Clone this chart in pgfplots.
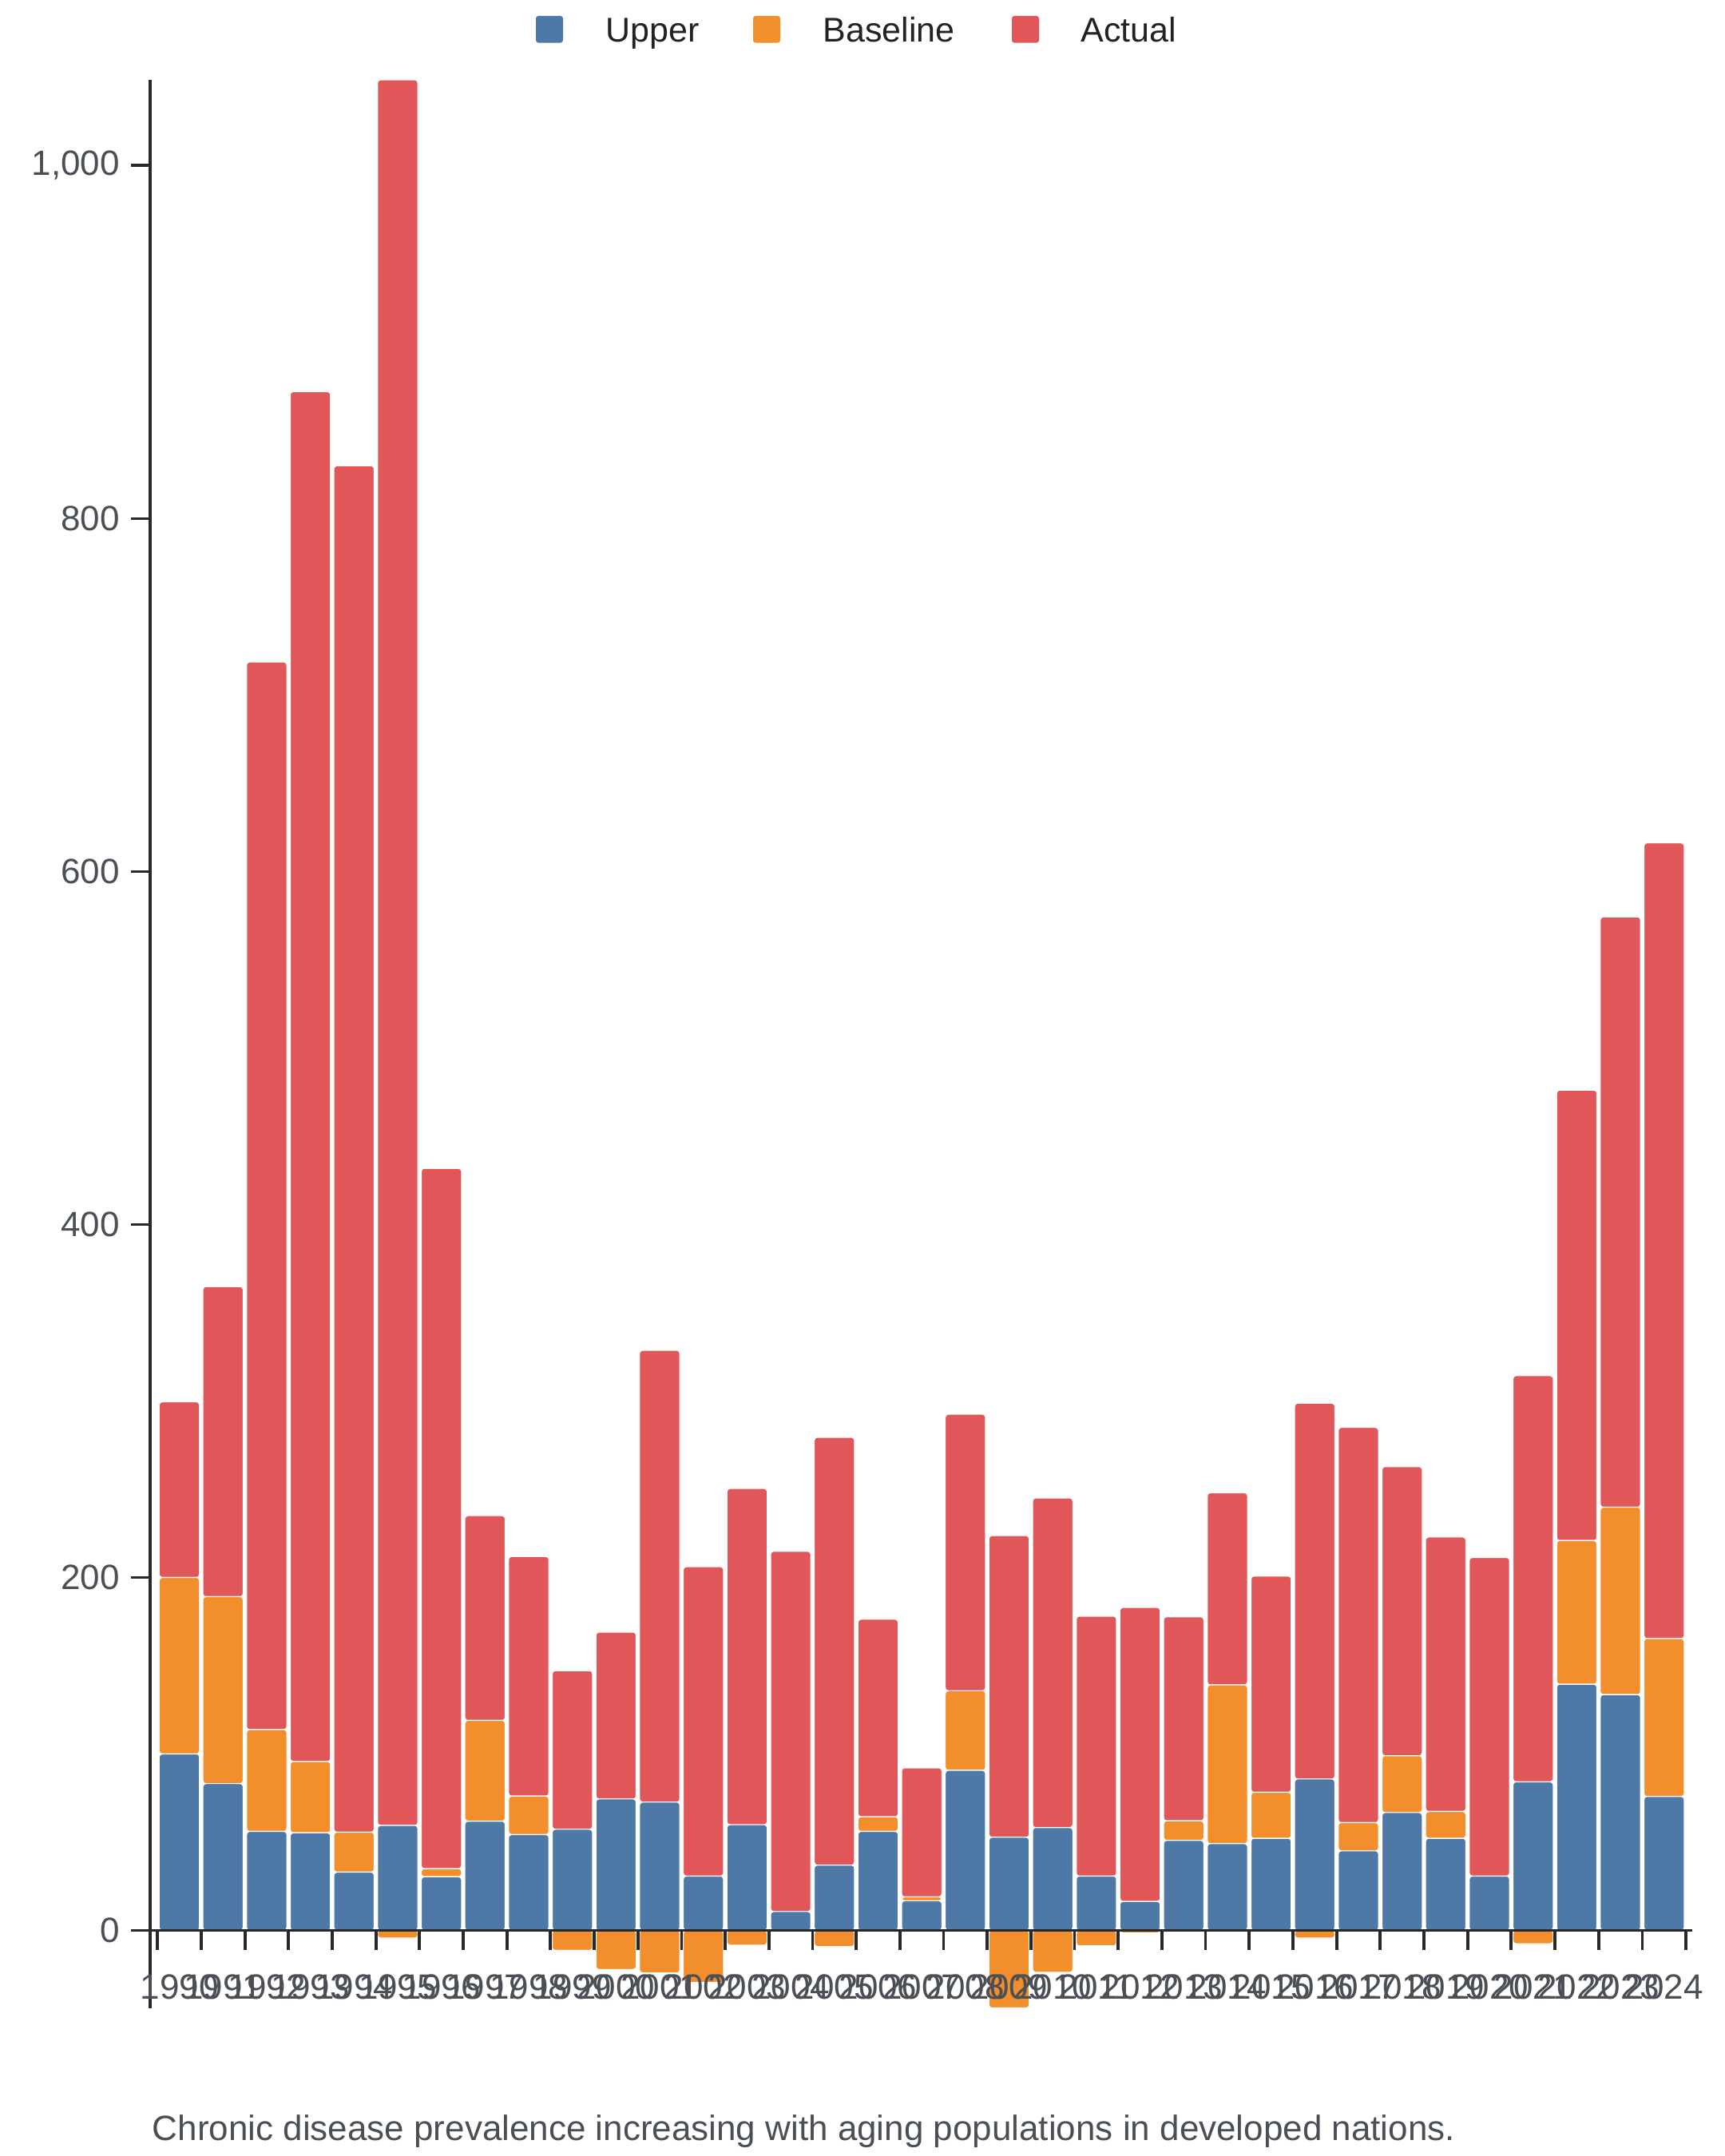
\documentclass[border=0pt]{standalone}
\usepackage{pgfplots}
\pgfplotsset{compat=1.18}
\usepackage{pgfplotstable}
\usepackage{fontspec}
\setmainfont{Liberation Sans}
\definecolor{cU}{HTML}{4E79A7}
\definecolor{cB}{HTML}{F28E2B}
\definecolor{cA}{HTML}{E15759}
\definecolor{axc}{HTML}{25282C}
\definecolor{tlc}{HTML}{4A4F55}
\definecolor{lgc}{HTML}{222222}
\newcommand\ff{\fontsize{10.75pt}{13pt}\selectfont}
\newcommand\fc{\fontsize{11pt}{13pt}\selectfont}

% x = year index (0 = 1990); U = Upper, Bp = Baseline (positive part), A = Actual
\pgfplotstableread{
x U Bp A
0 100 100 99.5
1 83.2 105.9 175.7
2 56.1 57.7 604.9
3 55.3 40.4 776.2
4 33.0 22.7 774.2
5 59.5 0 989.1
6 30.4 4.6 396.8
7 61.9 57.1 116.0
8 54.3 21.8 135.8
9 57.3 0 89.9
10 74.5 0 94.5
11 72.7 0 256.0
12 30.8 0 175.3
13 59.9 0 190.5
14 10.7 0 204.1
15 37.0 0 242.4
16 56.1 8.3 111.9
17 16.8 2.2 73.1
18 90.7 45.1 156.7
19 52.8 0 170.9
20 58.3 0 186.7
21 30.8 0 147.3
22 16.4 0 166.6
23 51.0 11.1 115.6
24 49.2 89.9 108.9
25 52.2 26.1 122.5
26 85.8 0 212.9
27 45.1 16.0 223.9
28 66.8 32.2 163.8
29 52.2 15.2 155.5
30 30.8 0 180.5
31 84.2 0 230.1
32 139.5 81.4 255.2
33 133.6 106.2 334.5
34 75.9 89.5 450.8
}\postab

% Baseline negative values
\pgfplotstableread{
x B
5 -4.3
9 -11.3
10 -22.1
11 -24.1
12 -29.5
13 -8.3
14 -0.6
15 -9.1
19 -43.9
20 -23.7
21 -8.7
22 -1.4
26 -4.3
30 -0.4
31 -7.5
}\negtab

\pgfplotsset{
  base/.style={
    scale only axis, width=482.75pt, height=603.75pt,
    at={(47pt,46.25pt)}, anchor=south west,
    xmin=-0.669, xmax=34.645, ymin=-44.1, ymax=1048.6,
  },
  barsty/.style={fill=#1, draw=white, line width=0.3pt, rounded corners=0.9pt},
}

\begin{document}
\begin{tikzpicture}
\useasboundingbox (0,0) rectangle (540pt,675pt);

\begin{axis}[base, hide axis, ybar, bar width=12.6pt, bar shift=0pt]
\addplot[barsty=cB] table[x=x,y=B]{\negtab};
\end{axis}

\begin{axis}[base, ybar stacked, bar width=12.6pt, axis on top, clip=false,
  axis x line*=middle, axis y line*=left,
  axis line style={axc, line width=0.95pt, -},
  tick align=outside, major tick length=6pt,
  tick style={axc, line width=0.95pt},
  xtick={-0.5,0.5,...,34.5}, xticklabels={},
  extra x ticks={0,1,...,34},
  extra x tick labels={1990,1991,1992,1993,1994,1995,1996,1997,1998,1999,2000,2001,2002,2003,2004,2005,2006,2007,2008,2009,2010,2011,2012,2013,2014,2015,2016,2017,2018,2019,2020,2021,2022,2023,2024},
  extra x tick style={major tick length=0pt, tick label style={anchor=base, yshift=-21.4pt}},
  ytick={0,200,...,1000},
  /pgf/number format/1000 sep={,},
  /pgf/number format/assume math mode=true,
  tick label style={font=\fc, text=tlc},
  yticklabel style={anchor=east},
]
\addplot[barsty=cU] table[x=x,y=U]{\postab};
\addplot[barsty=cB] table[x=x,y=Bp]{\postab};
\addplot[barsty=cA] table[x=x,y=A]{\postab};
\draw[axc, line width=0.95pt] (axis cs:-1.108,0) -- (axis cs:-0.669,0);
\end{axis}

% legend
\fill[cU, rounded corners=0.8pt] (167.75pt,661.6pt) rectangle ++(8.5pt,8.4pt);
\node[anchor=base west, inner sep=0, text=lgc, font=\ff] at (189.5pt,661.9pt) {Upper};
\fill[cB, rounded corners=0.8pt] (235.75pt,661.6pt) rectangle ++(8.5pt,8.4pt);
\node[anchor=base west, inner sep=0, text=lgc, font=\ff] at (257.5pt,661.9pt) {Baseline};
\fill[cA, rounded corners=0.8pt] (316.75pt,661.6pt) rectangle ++(8.5pt,8.4pt);
\node[anchor=base west, inner sep=0, text=lgc, font=\ff] at (338.25pt,661.9pt) {Actual};

% caption
\node[anchor=base west, inner sep=0, text=tlc, font=\fc] at (47.5pt,5pt) {Chronic disease prevalence increasing with aging populations in developed nations.};
\end{tikzpicture}
\end{document}
